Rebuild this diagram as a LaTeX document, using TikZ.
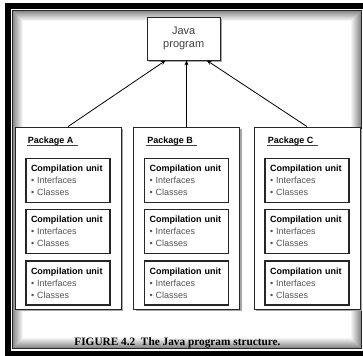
\documentclass[tikz,border=0pt]{standalone}
\usepackage{fontspec}
\setmainfont{Liberation Sans}
\newfontfamily\capfont{Liberation Serif}
\usepackage{tikz}
\usetikzlibrary{positioning,arrows.meta,shadows}
\definecolor{palFrame}{HTML}{262626}
\definecolor{palText}{HTML}{404040}
\definecolor{palItem}{HTML}{555555}
\definecolor{palShadow}{HTML}{A6A6A6}
\tikzset{
  boxshadow/.style={drop shadow={shadow xshift=2pt, shadow yshift=-2pt,
                    fill=palShadow, opacity=1}},
  javanode/.style={draw=palFrame, fill=white, line width=0.8pt, boxshadow,
                   minimum width=73pt, minimum height=43pt, align=center,
                   text=palText, font=\fontsize{11}{13.5}\selectfont},
  pkgnode/.style={draw=palFrame, fill=white, line width=0.8pt, boxshadow,
                  minimum width=106pt, minimum height=182pt},
  unitnode/.style={draw=palFrame, fill=white, line width=1.4pt,
                   minimum height=44pt, text width=74pt, inner xsep=5pt,
                   align=left, font=\fontsize{9}{12}\selectfont},
  pkglabel/.style={inner sep=0pt, anchor=base west,
                   font=\fontsize{9}{11}\selectfont\bfseries},
  stdarrow/.style={-{Stealth[length=5pt, width=4pt]}, line width=0.8pt},
}

\begin{document}
\begin{tikzpicture}[x=1pt, y=-1pt, node distance=6pt]
\def\yPkg{218}    % y-position for package row
\def\xPkgA{68}    % x-position for package A
\def\xPkgB{186.5} % x-position for package B
\def\xPkgC{307}   % x-position for package C
\def\unitBody{\textbf{Compilation unit}\\
  \textcolor{palItem}{\textbullet\ Interfaces}\\
  \textcolor{palItem}{\textbullet\ Classes}}

\useasboundingbox (0,0) rectangle (363,355);
\clip (0,0) rectangle (363,355);

%% Frame
\draw[line width=6pt] (8,6) rectangle (372,354);
\foreach \d [evaluate=\d as \shade using 45-4.5*\d] in {0,...,9}
  \draw[black!\shade, line width=1pt] (13.5+\d,11.5+\d) rectangle (360-\d,347-\d);
\draw[palFrame, line width=1pt] (12.5,10.5) rectangle (361,348);

%% Top Node
\node[javanode] (java) at (183.7,38.5) {Java\\program};

%% Package Nodes
\node[pkgnode] (pkA) at (\xPkgA,\yPkg) {};
\node[pkgnode] (pkB) at (\xPkgB,\yPkg) {};
\node[pkgnode] (pkC) at (\xPkgC,\yPkg) {};
\node[pkglabel] (labA) at ([xshift=13pt, yshift=-16.5pt]pkA.north west) {Package A};
\node[pkglabel] (labB) at ([xshift=14pt, yshift=-16.5pt]pkB.north west) {Package B};
\node[pkglabel] (labC) at ([xshift=14pt, yshift=-16.5pt]pkC.north west) {Package C};
\draw[palText] ([xshift=-1pt, yshift=-2pt]labA.base west) -- ++(51,0);
\draw[palText] ([xshift=-1pt, yshift=-2pt]labB.base west) -- ++(51,0);
\draw[palText] ([xshift=-1pt, yshift=-2pt]labC.base west) -- ++(51,0);

%% Compilation Units
\node[unitnode, below=31pt of pkA.north] (uA1) {\unitBody};
\node[unitnode, below=of uA1] (uA2) {\unitBody};
\node[unitnode, below=of uA2] (uA3) {\unitBody};
\node[unitnode, below=31pt of pkB.north] (uB1) {\unitBody};
\node[unitnode, below=of uB1] (uB2) {\unitBody};
\node[unitnode, below=of uB2] (uB3) {\unitBody};
\node[unitnode, below=31pt of pkC.north] (uC1) {\unitBody};
\node[unitnode, below=of uC1] (uC2) {\unitBody};
\node[unitnode, below=of uC2] (uC3) {\unitBody};

%% Arrows
\draw[stdarrow] (pkA.north) -- ([xshift=-18pt]java.south);
\draw[stdarrow] (pkB.north) -- (pkB.north |- java.south);
\draw[stdarrow] (pkC.north) -- ([xshift=23pt]java.south);

%% Caption
\node[font=\capfont\fontsize{11.3}{13}\selectfont\bfseries] (caption) at (177.5,343)
  {FIGURE 4.2\enspace The Java program structure.};
\end{tikzpicture}
\end{document}
